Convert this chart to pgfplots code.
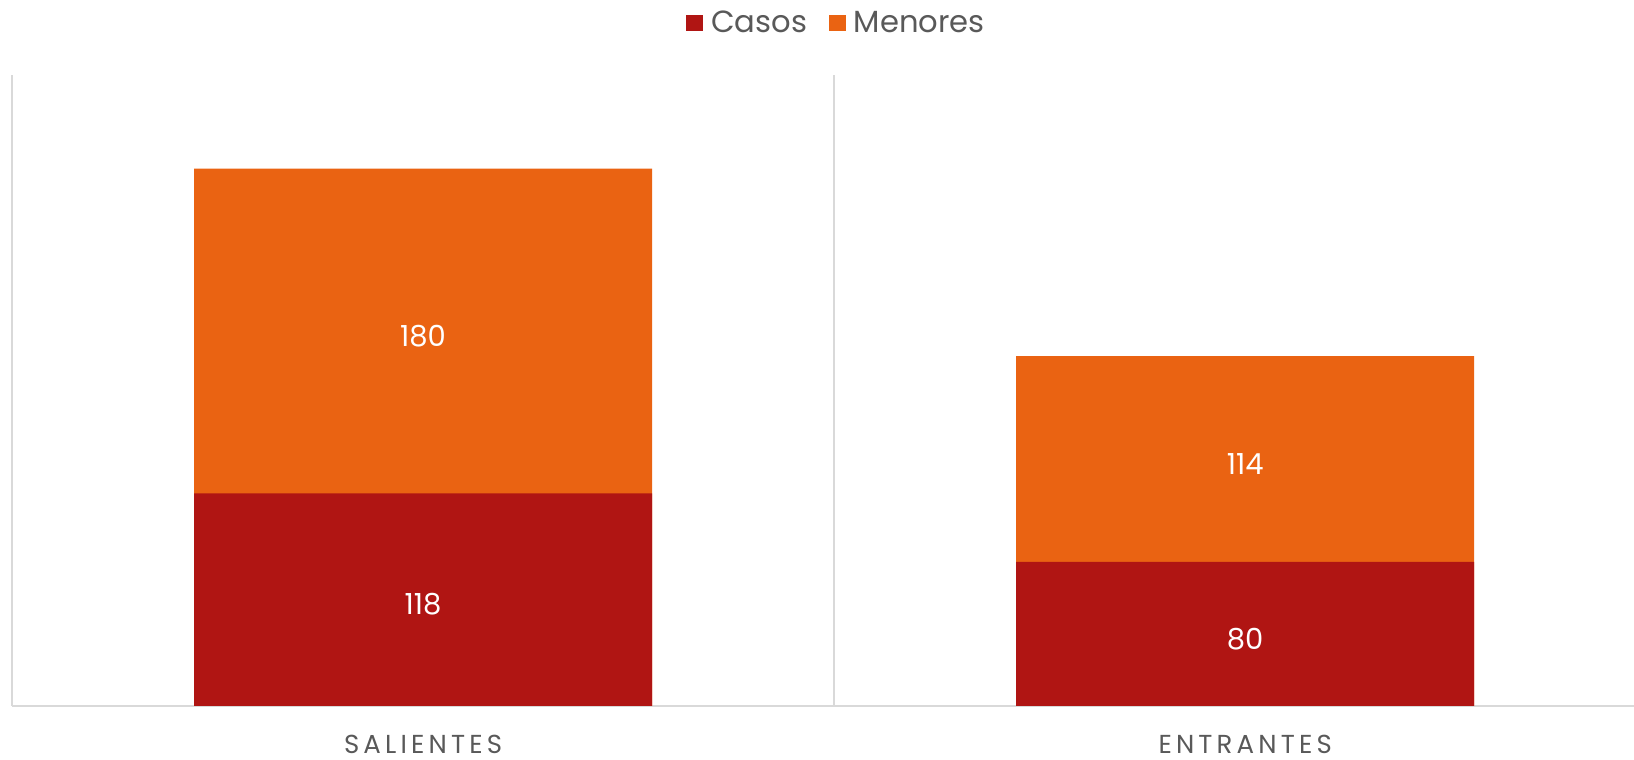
\documentclass[border=0pt]{standalone}
\usepackage{pgfplots}
\pgfplotsset{compat=1.18}
\usepackage{fontspec}
\setmainfont{Poppins}
\definecolor{casos}{HTML}{B01513}
\definecolor{menores}{HTML}{EA6312}
\definecolor{gridc}{HTML}{D9D9D9}
\definecolor{txt}{HTML}{595959}
\begin{document}
\begin{tikzpicture}
\path[use as bounding box] (0,0) rectangle (817pt,380pt);
\begin{axis}[
  at={(6pt,27pt)}, anchor=south west,
  scale only axis, width=811pt, height=315.5pt,
  ybar, bar width=229pt, bar shift=0pt,
  xmin=-0.5, xmax=1.473, ymin=0, ymax=350,
  axis lines*=left,
  axis line style={gridc, line width=1pt},
  ytick=\empty,
  xtick={0,1},
  xticklabels={SALIENTES,ENTRANTES},
  major tick length=0pt,
  xticklabel style={font=\fontsize{13}{13}\selectfont\addfontfeature{LetterSpace=16}, text=txt, inner sep=0pt, anchor=north, yshift=-14.5pt},
  extra x ticks={0.5},
  extra x tick labels={},
  extra x tick style={grid=major, major grid style={gridc, line width=1pt}},
  legend style={at={(0.509,1)}, anchor=center, yshift=26pt, draw=none,
    legend columns=2, font=\fontsize{15.3}{15.3}\selectfont, text=txt,
    /tikz/every odd column/.append style={column sep=2pt},
    /tikz/every even column/.append style={column sep=9pt}},
  legend image code/.code={\fill[#1] (0pt,-4.2pt) rectangle (8.4pt,4.2pt);},
]
\addplot[fill=menores, draw=none, forget plot] coordinates {(0,298) (1,194)};
\addplot[fill=casos, draw=none, forget plot] coordinates {(0,118) (1,80)};
\addlegendimage{fill=casos, draw=none}
\addlegendentry{Casos}
\addlegendimage{fill=menores, draw=none}
\addlegendentry{Menores}
\addplot[draw=none, fill=none, forget plot, nodes near coords, point meta=explicit symbolic,
  every node near coord/.append style={anchor=center, yshift=-2.5pt, text=white, font=\fontsize{14.5}{14.5}\selectfont}]
  coordinates {(0,59)[118] (0,208)[180] (1,40)[80] (1,137)[114]};
\end{axis}
\end{tikzpicture}
\end{document}
